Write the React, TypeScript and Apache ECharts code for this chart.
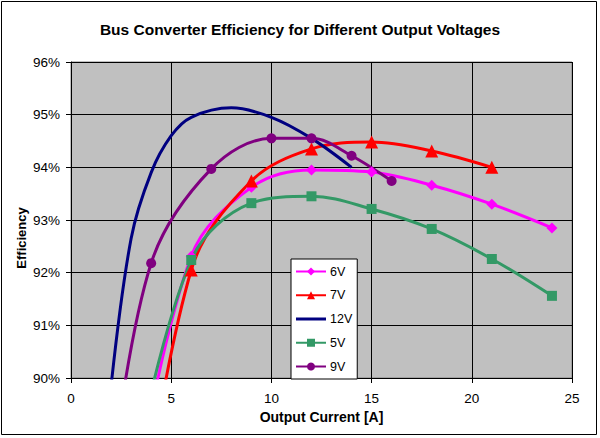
import React, { useEffect, useRef } from "react";
import * as echarts from "echarts";

const seriesNames = ["6V", "7V", "12V", "5V", "9V"];

const x6V = [3, 6, 9, 12, 15, 18, 21, 24];
const y6V = [87.4, 92.31, 93.62, 93.95, 93.91, 93.66, 93.3, 92.85];

const x7V = [3, 6, 9, 12, 15, 18, 21];
const y7V = [85.9, 92.05, 93.74, 94.35, 94.48, 94.31, 94.0];

const x12V = [2, 3, 4, 5, 6, 8, 10, 12, 14];
const y12V = [89.85, 92.65, 93.9, 94.6, 94.95, 95.13, 94.95, 94.55, 94.0];

const x5V = [3, 6, 9, 12, 15, 18, 21, 24];
const y5V = [88.0, 92.24, 93.32, 93.45, 93.21, 92.83, 92.26, 91.56];

const x9V = [2, 4, 7, 10, 12, 14, 16];
const y9V = [88.05, 92.18, 93.97, 94.55, 94.55, 94.22, 93.74];

const xTicks = [0, 5, 10, 15, 20, 25];
const yTicks = [90, 91, 92, 93, 94, 95, 96];

const FONT = "Arial, 'Liberation Sans', sans-serif";

function pairs(xs: number[], ys: number[]) {
  return xs.map((x, i) => [x, ys[i]]);
}

export default function App() {
  const ref = useRef<HTMLDivElement>(null);
  useEffect(() => {
    document.body.style.margin = "0";
    const chart = echarts.init(ref.current!, undefined, { renderer: "svg" });
    const mk = (
      name: string,
      xs: number[],
      ys: number[],
      color: string,
      symbol: string,
      size: number
    ) => ({
      name,
      type: "line",
      data: pairs(xs, ys),
      smooth: 0.35,
      clip: true,
      symbol,
      symbolSize: size,
      showSymbol: symbol !== "none",
      lineStyle: { color, width: 3 },
      itemStyle: { color, borderWidth: 0 },
      emphasis: { disabled: true },
    });
    chart.setOption({
      animation: false,
      backgroundColor: "#ffffff",
      title: {
        text: "Bus Converter Efficiency for Different Output Voltages",
        left: "center",
        top: 16,
        textStyle: { fontFamily: FONT, fontSize: 15.5, fontWeight: "bold", color: "#000" },
      },
      grid: {
        left: 71,
        right: 28,
        top: 62,
        bottom: 60,
        show: true,
        backgroundColor: "#C0C0C0",
        borderColor: "#808080",
        borderWidth: 1,
      },
      legend: {
        data: seriesNames.map((n) =>
          n === "12V" ? { name: n, icon: "path://M0,0H30V3H0Z" } : { name: n }
        ),
        orient: "vertical",
        left: 291,
        top: 259,
        itemWidth: 30,
        itemHeight: 10,
        itemGap: 10.75,
        padding: [6, 5, 6, 4],
        backgroundColor: "#ffffff",
        borderColor: "#000000",
        borderWidth: 1,
        borderRadius: 0,
        textStyle: { fontFamily: FONT, fontSize: 12.5, color: "#000", padding: [0, 0, 0, -1] },
      },
      xAxis: {
        type: "value",
        min: xTicks[0],
        max: xTicks[xTicks.length - 1],
        interval: 5,
        name: "Output Current [A]",
        nameLocation: "middle",
        nameGap: 31,
        nameTextStyle: { fontFamily: FONT, fontSize: 14, fontWeight: "bold", color: "#000" },
        axisLine: { show: true, lineStyle: { color: "#000", width: 1 } },
        axisTick: { show: true, inside: false, length: 5, lineStyle: { color: "#000" } },
        axisLabel: { fontFamily: FONT, fontSize: 13.5, color: "#000", margin: 13 },
        splitLine: { show: true, lineStyle: { color: "#000", width: 1 } },
      },
      yAxis: {
        type: "value",
        min: yTicks[0],
        max: yTicks[yTicks.length - 1],
        interval: 1,
        axisLine: { show: true, lineStyle: { color: "#000", width: 1 } },
        axisTick: { show: true, inside: false, length: 5, lineStyle: { color: "#000" } },
        axisLabel: {
          fontFamily: FONT,
          fontSize: 13.5,
          color: "#000",
          margin: 11,
          formatter: (v: number) => `${v}%`,
        },
        splitLine: { show: true, lineStyle: { color: "#000", width: 1 } },
      },
      graphic: [
        {
          type: "text",
          x: 21,
          y: 238,
          rotation: Math.PI / 2,
          style: {
            text: "Efficiency",
            font: `bold 13px ${FONT}`,
            fill: "#000",
            align: "center",
            verticalAlign: "middle",
          },
        },
        {
          type: "rect",
          shape: { x: 1.5, y: 1.5, width: 595, height: 433 },
          style: { fill: "none", stroke: "#000", lineWidth: 1 },
          silent: true,
        },
      ],
      series: [
        mk("6V", x6V, y6V, "#FF00FF", "diamond", 11),
        mk("7V", x7V, y7V, "#FF0000", "triangle", 13),
        mk("12V", x12V, y12V, "#000080", "none", 0),
        mk("5V", x5V, y5V, "#339966", "rect", 10),
        mk("9V", x9V, y9V, "#800080", "circle", 10),
      ],
    });
    return () => chart.dispose();
  }, []);
  return (
    <div
      ref={ref}
      style={{ position: "fixed", left: 0, top: 0, width: 600, height: 438 }}
    />
  );
}
